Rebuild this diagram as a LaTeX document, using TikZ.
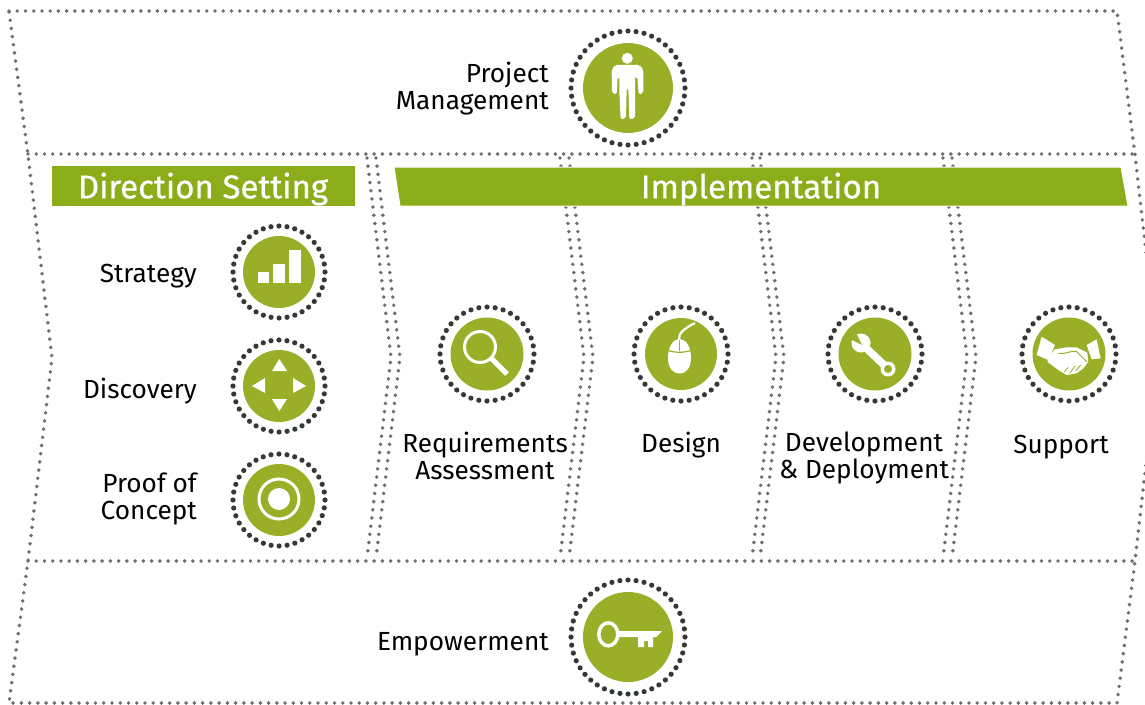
\documentclass[tikz,border=0pt]{standalone}
\usepackage{fontspec}
\setmainfont{Fira Sans}
\newfontfamily\headfont[FakeBold=0.6]{Fira Sans}
\definecolor{barGreen}{HTML}{8BAD1A}
\definecolor{iconGreen}{HTML}{9BAE28}
\definecolor{dotGray}{HTML}{6E6E70}
\definecolor{ringDark}{HTML}{333A36}
\tikzset{
  frame/.style={draw=dotGray,line width=3.9pt,line cap=round,dash pattern=on 0pt off 8.24pt},
  badge/.style={shape=circle,fill=iconGreen,inner sep=0pt,outer sep=0pt},
  ring/.style={shape=circle,draw=ringDark,line width=5.2pt,line cap=round,inner sep=0pt,outer sep=0pt,dash pattern=on 0pt off #1},
  caption/.style={text=black,font=\fontsize{26.2}{27}\selectfont,inner sep=0pt},
  heading/.style={text=white,font=\headfont\fontsize{33}{35}\selectfont,inner sep=0pt},
  icon/.style={fill=white,draw=none},
  iconline/.style={draw=white,fill=none}
}
\begin{document}
\begin{tikzpicture}[x=1pt,y=-1pt]
\useasboundingbox (0,0) rectangle (1145,704);
\draw [frame] (9,11) -- (1117,11) -- (1135,155) -- (1158,358) -- (1135,561) -- (1117,703) -- (9,703) -- (28,561) -- (52,358) -- (28,155) -- cycle;
\draw [frame] (28,154) -- (1135,154);
\draw [frame] (28,561) -- (1135,561);
\foreach \x in {367,376,560,569,752,760,943,952} {
  \draw [frame] (\x,158) -- (\x+24,357) -- (\x,558);
}
\node (dirbar) at (203.5,186) [fill=barGreen,minimum width=303pt,minimum height=40pt,inner sep=0pt] {};
\fill [barGreen,draw=white,line width=1pt] (394,167) -- (1121,167) -- (1128,206) -- (400,206) -- cycle;
\node (dirtext) at (203,189) [heading] {Direction Setting};
\node (imptext) at (761,189) [heading] {Implementation};

\node (pmring) at (628,88) [ring=8.14pt,minimum size=114pt] {};
\node (pm) at (628,88) [badge,minimum size=90pt] {};
\node (emring) at (628,637) [ring=8.14pt,minimum size=114pt] {};
\node (em) at (628,637) [badge,minimum size=90pt] {};
\node (stratring) at (279,272) [ring=8.03pt,minimum size=92pt] {};
\node (strat) at (279,272) [badge,minimum size=72pt] {};
\node (discring) at (279,386) [ring=8.03pt,minimum size=92pt] {};
\node (disc) at (279,386) [badge,minimum size=72pt] {};
\node (proofring) at (279,500) [ring=8.03pt,minimum size=92pt] {};
\node (proof) at (279,500) [badge,minimum size=72pt] {};
\node (reqring) at (487,354) [ring=8.2pt,minimum size=94pt] {};
\node (req) at (487,354) [badge,minimum size=73pt] {};
\node (desring) at (681,354) [ring=8.2pt,minimum size=94pt] {};
\node (des) at (681,354) [badge,minimum size=72pt] {};
\node (devring) at (875,354) [ring=8.2pt,minimum size=94pt] {};
\node (dev) at (875,354) [badge,minimum size=73pt] {};
\node (supring) at (1069,354) [ring=8.2pt,minimum size=94pt] {};
\node (sup) at (1069,354) [badge,minimum size=73pt] {};

\node (pmlabel) at (549,88.5) [caption,anchor=east,align=right] {Project\\Management};
\node (stratlabel) at (197,276) [caption,anchor=east] {Strategy};
\node (disclabel) at (197,391) [caption,anchor=east] {Discovery};
\node (prooflabel) at (197,499) [caption,anchor=east,align=right] {Proof of\\Concept};
\node (reqlabel) at (485,456) [caption,align=center] {Requirements\\Assessment};
\node (deslabel) at (681,445) [caption] {Design};
\node (devlabel) at (864,458) [caption,align=center] {Development\\\& Deployment};
\node (suplabel) at (1061,447) [caption] {Support};
\node (emlabel) at (549,644) [caption,anchor=east] {Empowerment};

\fill [icon] (258,272) rectangle (269,283);
\fill [icon] (273,264) rectangle (285,283);
\fill [icon] (289,250) rectangle (301,283);

\fill [icon] (279.3,359) -- (287,371) -- (272,371) -- cycle;
\fill [icon] (279.3,411) -- (287,399) -- (272,399) -- cycle;
\fill [icon] (252,386) -- (265,378) -- (265,393) -- cycle;
\fill [icon] (306,386) -- (293,378) -- (293,393) -- cycle;

\draw [iconline,line width=3pt] (279,499) circle (20);
\fill [icon] (279,499) circle (11);

\draw [iconline,line width=3pt] (480,347) circle (15.5);
\draw [iconline,line width=5pt] (491,358) -- (507,374);

\fill [icon] (668,358) .. controls (668,347) and (673,339) .. (679.5,339) .. controls (686,339) and (691,347) .. (691,358) .. controls (691,368) and (686,373.5) .. (679.5,373.5) .. controls (673,373.5) and (668,368) .. (668,358) -- cycle;
\draw [draw=iconGreen,line width=1.2pt] (667,350) .. controls (674,353) and (685,353) .. (692,350);
\draw [draw=iconGreen,line width=1.2pt] (679.5,338) -- (679.5,351);
\draw [iconline,line width=2.2pt] (679,340) .. controls (678,333) and (685,328) .. (695,323);

\fill [icon] (861,343) circle (9.5);
\draw [iconline,line width=7.5pt] (864,346) -- (884,365);
\fill [icon] (888,369) circle (7.5);
\fill [iconGreen] (888,369) circle (4);
\fill [iconGreen] (862,345) -- (855,331) -- (848,338) -- cycle;

\begin{scope}[shift={(810,290)},x=0.3333pt,y=-0.3333pt]
\fill [icon] (695,140) -- (735,165) -- (715,210) -- (680,195) -- cycle;
\fill [icon] (860,148) -- (830,165) -- (845,208) -- (872,205) -- cycle;
\fill [icon] (735,178) -- (770,172) -- (800,172) -- (832,188) -- (835,215) -- (820,235) -- (800,250) -- (770,255) -- (745,240) -- (712,215) -- (720,195) -- cycle;
\draw [draw=iconGreen,line width=1pt] (745,190) .. controls (765,195) and (780,180) .. (800,185) -- (830,215);
\draw [draw=iconGreen,line width=0.8pt] (775,232) -- (763,246) (795,228) -- (781,248) (812,225) -- (797,243);
\end{scope}

\draw [iconline,line width=3.5pt] (608.3,634.3) ellipse (9.5 and 11.5);
\fill [icon] (619,631) -- (662,631) -- (656,637) -- (653,637) -- (653,647) -- (648,647) -- (648,641) -- (644,641) -- (644,647) -- (638,647) -- (638,637) -- (619,637) -- cycle;

\fill [icon] (627.3,58.3) circle (5.5);
\begin{scope}[shift={(550,15)},x=0.3333pt,y=-0.3333pt]
\fill [icon,rounded corners=2pt] (195,150) -- (270,150) -- (280,165) -- (280,235) -- (266,238) -- (262,185) -- (255,185) -- (255,230) -- (255,310) -- (238,313) -- (235,220) -- (230,220) -- (228,310) -- (212,313) -- (208,230) -- (208,185) -- (203,185) -- (200,238) -- (186,235) -- (185,165) -- cycle;
\end{scope}
\end{tikzpicture}
\end{document}
